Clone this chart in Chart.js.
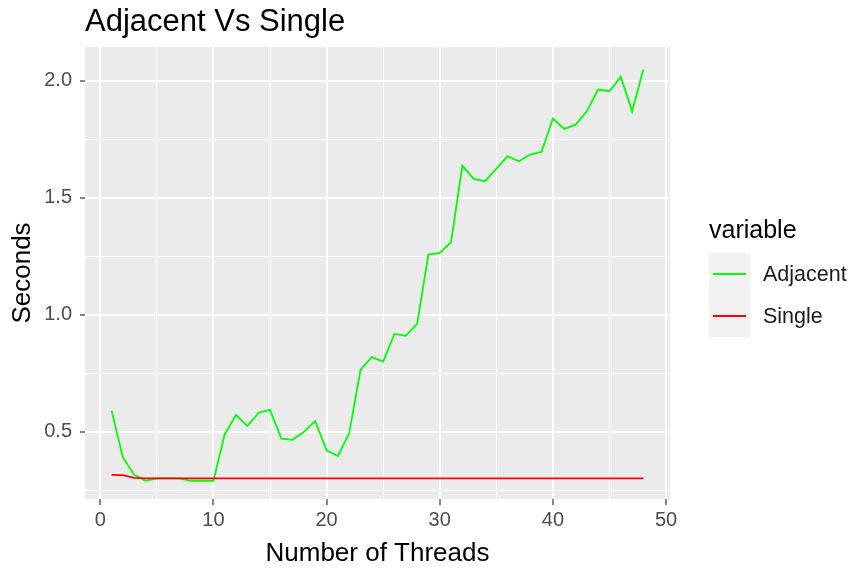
<!DOCTYPE html>
<html>
<head>
<meta charset="utf-8">
<title>Adjacent Vs Single</title>
<script src="https://cdn.jsdelivr.net/npm/chart.js@4.4.1/dist/chart.umd.min.js"></script>
<style>
  html, body { margin: 0; padding: 0; background: #fff; }
  #wrap { width: 854px; height: 571px; }
</style>
</head>
<body>
<div id="wrap"><canvas id="chart" width="854" height="571"></canvas></div>
<script>
'use strict';

// ---- data ----
const threads = [1, 2, 3, 4, 5, 6, 7, 8, 9, 10, 11, 12, 13, 14, 15, 16, 17, 18, 19, 20,
  21, 22, 23, 24, 25, 26, 27, 28, 29, 30, 31, 32, 33, 34, 35, 36, 37, 38, 39, 40,
  41, 42, 43, 44, 45, 46, 47, 48];
const adjacent = [0.59, 0.39, 0.315, 0.29, 0.30, 0.30, 0.30, 0.29, 0.29, 0.29,
  0.49, 0.571, 0.524, 0.581, 0.593, 0.47, 0.465, 0.50, 0.545, 0.42,
  0.396, 0.493, 0.764, 0.819, 0.80, 0.918, 0.91, 0.961, 1.257, 1.264,
  1.31, 1.638, 1.581, 1.571, 1.624, 1.678, 1.656, 1.685, 1.697, 1.839,
  1.795, 1.813, 1.870, 1.963, 1.956, 2.018, 1.870, 2.049];
const single = [0.315, 0.314, 0.302, 0.30, 0.30, 0.30, 0.30, 0.30, 0.30, 0.30,
  0.30, 0.30, 0.30, 0.30, 0.30, 0.30, 0.30, 0.30, 0.30, 0.30,
  0.30, 0.30, 0.30, 0.30, 0.30, 0.30, 0.30, 0.30, 0.30, 0.30,
  0.30, 0.30, 0.30, 0.30, 0.30, 0.30, 0.30, 0.30, 0.30, 0.30,
  0.30, 0.30, 0.30, 0.30, 0.30, 0.30, 0.30, 0.30];
const seriesNames = ['Adjacent', 'Single'];
const seriesColors = ['#00ff00', '#ff0000'];
const xTicks = [0, 5, 10, 15, 20, 25, 30, 35, 40, 45, 50];
const yTicks = [0.25, 0.5, 0.75, 1.0, 1.25, 1.5, 1.75, 2.0];
const chartTitle = 'Adjacent Vs Single';
const legendTitle = 'variable';

// ---- helpers ----
const FONT = '"Liberation Sans", Arial, sans-serif';
Chart.defaults.font.family = FONT;

function isMajorX(v) { return v % 10 === 0; }
function isMajorY(v) { return Math.abs(v * 2 - Math.round(v * 2)) < 1e-9; }
function toPoints(ys) { return threads.map((t, i) => ({ x: t, y: ys[i] })); }

// grey panel, title and ggplot-like legend
const ggDecor = {
  id: 'ggDecor',
  beforeDraw(chart) {
    const { ctx, chartArea: a } = chart;
    ctx.save();
    ctx.fillStyle = '#ebebeb';
    ctx.fillRect(a.left, a.top, a.right - a.left, a.bottom - a.top);
    ctx.restore();
  },
  afterDraw(chart) {
    const { ctx, chartArea: a } = chart;
    ctx.save();
    ctx.fillStyle = '#000';
    ctx.textAlign = 'left';
    ctx.textBaseline = 'alphabetic';
    ctx.font = '31px ' + FONT;
    ctx.fillText(chartTitle, a.left, 31);

    // legend
    const lx = 709, keyW = 41, keyH = 42, top = 253;
    ctx.font = '25px ' + FONT;
    ctx.textBaseline = 'middle';
    ctx.fillText(legendTitle, lx, 231);
    ctx.fillStyle = '#f2f2f2';
    ctx.fillRect(lx, top, keyW, keyH * seriesNames.length);
    ctx.font = '21.5px ' + FONT;
    seriesNames.forEach((name, i) => {
      const cy = top + keyH * i + keyH / 2;
      ctx.strokeStyle = seriesColors[i];
      ctx.lineWidth = 2;
      ctx.beginPath();
      ctx.moveTo(lx + 4, cy);
      ctx.lineTo(lx + keyW - 4, cy);
      ctx.stroke();
      ctx.fillStyle = '#1a1a1a';
      ctx.fillText(name, 763, cy + 1);
    });
    ctx.restore();
  }
};

new Chart(document.getElementById('chart'), {
  type: 'line',
  data: {
    datasets: [
      { label: seriesNames[0], data: toPoints(adjacent), borderColor: seriesColors[0],
        borderWidth: 1.8, pointRadius: 0, tension: 0, order: 1 },
      { label: seriesNames[1], data: toPoints(single), borderColor: seriesColors[1],
        borderWidth: 1.8, pointRadius: 0, tension: 0, order: 0 }
    ]
  },
  options: {
    responsive: false,
    animation: false,
    devicePixelRatio: 1,
    layout: { padding: { top: 47, right: 184, bottom: 0, left: 0 } },
    plugins: { legend: { display: false }, title: { display: false }, tooltip: { enabled: false } },
    scales: {
      x: {
        type: 'linear', min: -1.35, max: 50.35,
        afterBuildTicks: s => { s.ticks = xTicks.map(v => ({ value: v })); },
        afterFit: s => { s.height = 72; },
        border: { display: false },
        grid: {
          color: '#ffffff',
          lineWidth: c => (c.tick && isMajorX(c.tick.value) ? 2 : 1),
          tickColor: c => (c.tick && isMajorX(c.tick.value) ? '#333333' : 'rgba(0,0,0,0)'),
          tickLength: 6, tickWidth: 1.2
        },
        ticks: {
          autoSkip: false, maxRotation: 0, padding: 3, color: '#4d4d4d',
          font: { size: 20 },
          callback: v => (isMajorX(v) ? String(v) : '')
        },
        title: { display: true, text: 'Number of Threads', color: '#000',
          font: { size: 26 }, padding: { top: 0, bottom: 2 } }
      },
      y: {
        type: 'linear', min: 0.212, max: 2.145,
        afterBuildTicks: s => { s.ticks = yTicks.map(v => ({ value: v })); },
        afterFit: s => { s.width = 85; },
        border: { display: false },
        grid: {
          color: '#ffffff',
          lineWidth: c => (c.tick && isMajorY(c.tick.value) ? 2 : 1),
          tickColor: c => (c.tick && isMajorY(c.tick.value) ? '#333333' : 'rgba(0,0,0,0)'),
          tickLength: 5, tickWidth: 1.2
        },
        ticks: {
          autoSkip: false, padding: 8, color: '#4d4d4d',
          font: { size: 20 },
          callback: v => (isMajorY(v) ? v.toFixed(1) : '')
        },
        title: { display: true, text: 'Seconds', color: '#000',
          font: { size: 26 }, padding: { top: 7, bottom: 0 } }
      }
    }
  },
  plugins: [ggDecor]
});
</script>
</body>
</html>
